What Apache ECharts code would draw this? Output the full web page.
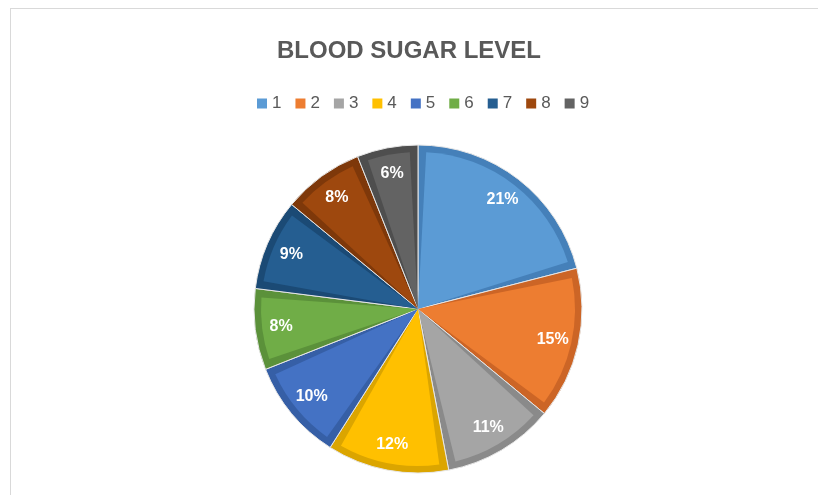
<!DOCTYPE html>
<html lang="en">
<head>
    <meta charset="UTF-8">
    <title>Blood Sugar Level</title>
    <script src="https://cdn.jsdelivr.net/npm/echarts@6/dist/echarts.min.js"></script>
    <style>
        body {
            margin: 0;
            padding: 0;
            background: #ffffff;
        }
        #frame {
            position: absolute;
            left: 10px;
            top: 8px;
            width: 820px;
            height: 500px;
            border-top: 1px solid #d9d9d9;
            border-left: 1px solid #d9d9d9;
        }
        #chart {
            position: absolute;
            left: 0;
            top: 0;
            width: 818px;
            height: 495px;
        }
    </style>
</head>
<body>
    <div id="frame"></div>
    <div id="chart"></div>
    <script>
        // data
        const categories = ['1', '2', '3', '4', '5', '6', '7', '8', '9'];
        const percents = [21, 15, 11, 12, 10, 8, 9, 8, 6];
        const fillColors = ['#5b9bd5', '#ed7d31', '#a5a5a5', '#ffc000', '#4472c4', '#70ad47', '#255e91', '#9e480e', '#636363'];
        const edgeColors = ['#4580b9', '#cc6526', '#8a8a8a', '#dba500', '#365fa6', '#5b913a', '#1b4a75', '#7e380a', '#4e4e4e'];

        const chart = echarts.init(document.getElementById('chart'));

        const makeData = (colors) => categories.map((name, i) => ({
            name: name,
            value: percents[i],
            itemStyle: { color: colors[i] }
        }));

        const common = {
            type: 'pie',
            center: [418, 309],
            startAngle: 90,
            clockwise: true,
            silent: true,
            animation: false,
            emphasis: { disabled: true },
            labelLine: { show: false }
        };

        chart.setOption({
            title: {
                text: 'BLOOD SUGAR LEVEL',
                left: 'center',
                top: 34,
                textStyle: {
                    fontFamily: 'Liberation Sans',
                    fontSize: 24,
                    fontWeight: 'bold',
                    color: '#595959'
                }
            },
            legend: {
                data: categories,
                left: 252,
                top: 90,
                icon: 'rect',
                itemWidth: 10,
                itemHeight: 10,
                itemGap: 14,
                selectedMode: false,
                textStyle: {
                    fontFamily: 'Liberation Sans',
                    fontSize: 17,
                    color: '#595959'
                }
            },
            series: [
                Object.assign({}, common, {
                    name: 'fill',
                    z: 3,
                    radius: [0, 157],
                    padAngle: 6,
                    label: { show: false },
                    data: makeData(fillColors)
                }),
                Object.assign({}, common, {
                    name: 'edge',
                    z: 2,
                    radius: [0, 164],
                    itemStyle: { borderWidth: 1, borderColor: '#e6e6e6' },
                    label: { show: false },
                    data: makeData(edgeColors)
                }),
                Object.assign({}, common, {
                    name: 'labels',
                    z: 4,
                    radius: [106, 164],
                    itemStyle: { color: 'rgba(0,0,0,0)' },
                    label: {
                        show: true,
                        position: 'inside',
                        formatter: '{c}%',
                        fontFamily: 'Liberation Sans',
                        fontSize: 16,
                        fontWeight: 'bold',
                        color: '#ffffff'
                    },
                    data: categories.map((name, i) => ({ name: name, value: percents[i] }))
                })
            ]
        });
    </script>
</body>
</html>
